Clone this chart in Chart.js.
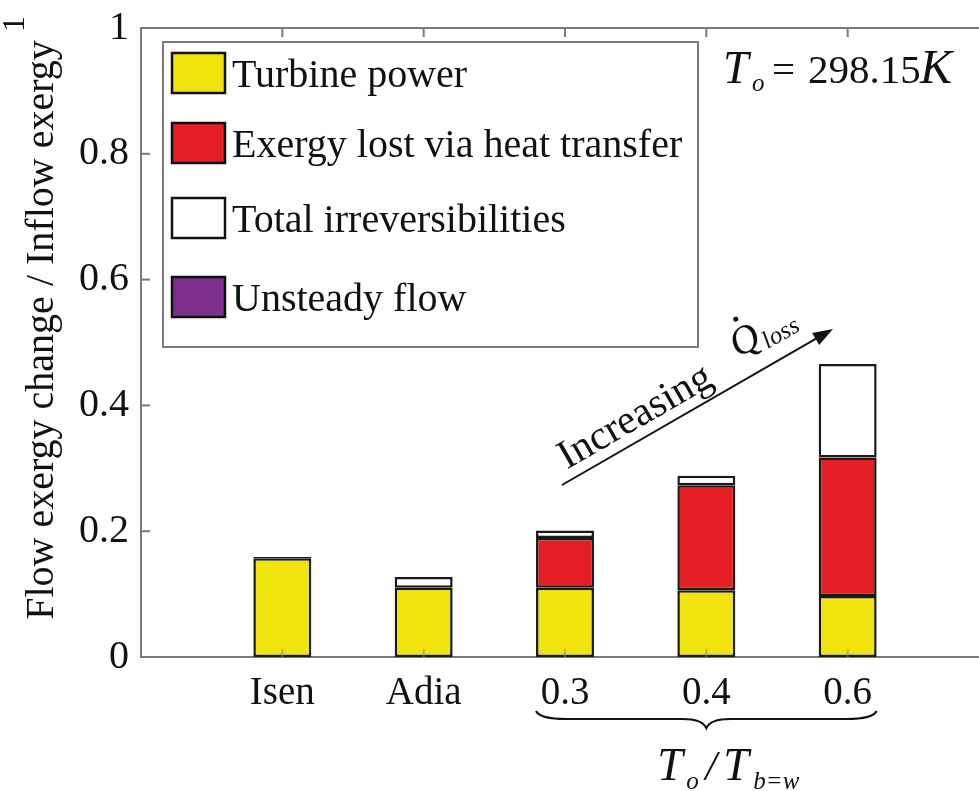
<!DOCTYPE html>
<html>
<head>
<meta charset="utf-8">
<script src="https://cdn.jsdelivr.net/npm/chart.js@4.4.1/dist/chart.umd.min.js"></script>
<style>
html, body { margin: 0; padding: 0; background: #fff; overflow: hidden; }
#wrap { width: 979px; height: 791px; overflow: hidden; }
canvas { display: block; }
</style>
</head>
<body>
<div id="wrap"><canvas id="c" width="1000" height="791"></canvas></div>
<script>
// Exergy breakdown per case (fraction of inflow exergy)
const categories = ['Isen', 'Adia', '0.3', '0.4', '0.6'];
const turbinePower = [0.157, 0.110, 0.110, 0.106, 0.097];
const heatTransferLoss = [0, 0, 0.079, 0.167, 0.220];
const irreversibilities = [0.002, 0.017, 0.012, 0.015, 0.149];
const unsteadyFlow = [0, 0, 0, 0, 0];
const yTicks = [0, 0.2, 0.4, 0.6, 0.8, 1];
const seriesNames = ['Turbine power', 'Exergy lost via heat transfer', 'Total irreversibilities', 'Unsteady flow'];
const seriesColors = ['#F0E30E', '#E31E24', '#FFFFFF', '#7E2F8E'];

const FONT = '"Liberation Serif", "Times New Roman", serif';
const AXIS = '#7a7a7a';
const INK = '#111111';

// one empty slot on each side so the x range runs from 0 to 6
const labels = ['', ...categories, ''];
const pad = arr => [null, ...arr, null];
const seriesValues = [turbinePower, heatTransferLoss, irreversibilities, unsteadyFlow];

const datasets = seriesValues.map((vals, i) => ({
  label: seriesNames[i],
  data: pad(vals),
  backgroundColor: seriesColors[i],
  borderColor: '#1a1a1a',
  borderWidth: 2.5,
  borderSkipped: false,
  barPercentage: 0.41,
  categoryPercentage: 1
}));

function line(ctx, x1, y1, x2, y2) {
  ctx.beginPath(); ctx.moveTo(x1, y1); ctx.lineTo(x2, y2); ctx.stroke();
}

const framePlugin = {
  id: 'frame',
  afterDraw(chart) {
    const { ctx, chartArea: a, scales: { x, y } } = chart;
    ctx.save();

    // box: top and right edges
    ctx.strokeStyle = AXIS;
    ctx.lineWidth = 2;
    line(ctx, a.left, a.top, a.right, a.top);
    line(ctx, a.right, a.top, a.right, a.bottom);

    // inward tick marks
    yTicks.forEach(v => {
      const py = y.getPixelForValue(v);
      line(ctx, a.left, py, a.left + 9, py);
      line(ctx, a.right - 10, py, a.right, py);
    });
    categories.forEach((c, i) => {
      const px = x.getPixelForValue(i + 1);
      ctx.strokeStyle = AXIS;
      line(ctx, px, a.top, px, a.top + 9);
      ctx.strokeStyle = 'rgba(140,140,140,0.55)';
      line(ctx, px, a.bottom, px, a.bottom - 8);
    });

    // y axis title
    ctx.save();
    ctx.translate(42, 330);
    ctx.rotate(-Math.PI / 2);
    ctx.fillStyle = INK;
    ctx.font = '40px ' + FONT;
    ctx.textAlign = 'center';
    ctx.textBaseline = 'middle';
    ctx.fillText('Flow exergy change / Inflow exergy', 0, 0);
    ctx.restore();

    // legend
    const lx = 163, ly = 42, lw = 535, lh = 305;
    const rows = [73, 143, 218, 297];
    ctx.fillStyle = '#fff';
    ctx.fillRect(lx, ly, lw, lh);
    ctx.strokeStyle = AXIS;
    ctx.lineWidth = 2;
    ctx.strokeRect(lx, ly, lw, lh);
    ctx.font = '40px ' + FONT;
    ctx.textBaseline = 'alphabetic';
    ctx.textAlign = 'left';
    chart.data.datasets.forEach((ds, i) => {
      const cy = rows[i];
      ctx.fillStyle = ds.backgroundColor;
      ctx.fillRect(172, cy - 20, 53, 40);
      ctx.strokeStyle = INK;
      ctx.lineWidth = 2.5;
      ctx.strokeRect(172, cy - 20, 53, 40);
      ctx.fillStyle = INK;
      ctx.fillText(ds.label, 232, cy + 14);
    });

    // reference temperature
    ctx.fillStyle = INK;
    ctx.font = 'italic 46px ' + FONT;
    ctx.fillText('T', 723, 83);
    ctx.font = 'italic 25px ' + FONT;
    ctx.fillText('o', 752, 91);
    ctx.font = '41px ' + FONT;
    ctx.fillText('=', 772, 83);
    ctx.fillText('298.15', 808, 83);
    ctx.font = 'italic 48px ' + FONT;
    ctx.fillText('K', 920, 83);

    // arrow for increasing heat loss
    const x0 = 562, y0 = 485, x1 = 833, y1 = 329;
    const ang = Math.atan2(y1 - y0, x1 - x0);
    ctx.strokeStyle = INK;
    ctx.lineWidth = 2;
    line(ctx, x0, y0, x1 - 14 * Math.cos(ang), y1 - 14 * Math.sin(ang));
    ctx.beginPath();
    ctx.moveTo(x1, y1);
    ctx.lineTo(x1 - 20 * Math.cos(ang) + 7 * Math.sin(ang), y1 - 20 * Math.sin(ang) - 7 * Math.cos(ang));
    ctx.lineTo(x1 - 20 * Math.cos(ang) - 7 * Math.sin(ang), y1 - 20 * Math.sin(ang) + 7 * Math.cos(ang));
    ctx.closePath();
    ctx.fillStyle = INK;
    ctx.fill();

    ctx.save();
    ctx.translate(x0, y0);
    ctx.rotate(ang);
    ctx.font = '41px ' + FONT;
    ctx.fillText('Increasing', 12, -11);
    // Q-dot with "loss" subscript
    ctx.font = 'italic 40px ' + FONT;
    const qx = 216, qy = -22;
    ctx.fillText('Q', qx, qy);
    const qw = ctx.measureText('Q').width;
    ctx.beginPath();
    ctx.arc(qx + qw * 0.6, qy - 35, 2.5, 0, Math.PI * 2);
    ctx.fill();
    ctx.font = 'italic 25px ' + FONT;
    ctx.fillText('loss', qx + qw + 1, qy + 7);
    ctx.restore();

    // brace under the heat-transfer cases
    const half = 29;
    const bl = x.getPixelForValue(3) - half;
    const br = x.getPixelForValue(5) + half;
    const bc = (bl + br) / 2;
    const by = 719;
    ctx.strokeStyle = INK;
    ctx.lineWidth = 2.2;
    ctx.beginPath();
    ctx.moveTo(bl, by - 8);
    ctx.quadraticCurveTo(bl + 4, by, bl + 30, by);
    ctx.lineTo(bc - 24, by);
    ctx.quadraticCurveTo(bc - 4, by, bc, by + 9);
    ctx.quadraticCurveTo(bc + 4, by, bc + 24, by);
    ctx.lineTo(br - 30, by);
    ctx.quadraticCurveTo(br - 4, by, br, by - 8);
    ctx.stroke();

    // temperature ratio label
    const tx = bc - 49;
    ctx.fillStyle = INK;
    ctx.font = 'italic 46px ' + FONT;
    ctx.fillText('T', tx, 780);
    ctx.font = 'italic 25px ' + FONT;
    ctx.fillText('o', tx + 29, 789);
    ctx.font = 'italic 42px ' + FONT;
    ctx.fillText('/', tx + 48, 780);
    ctx.font = 'italic 46px ' + FONT;
    ctx.fillText('T', tx + 66, 780);
    ctx.font = 'italic 25px ' + FONT;
    ctx.fillText('b=w', tx + 96, 789);

    // small rotated mark in the corner
    ctx.save();
    ctx.translate(16, 24);
    ctx.rotate(-Math.PI / 2);
    ctx.font = '32px ' + FONT;
    ctx.textAlign = 'center';
    ctx.textBaseline = 'middle';
    ctx.fillText('1', 0, 0);
    ctx.restore();

    ctx.restore();
  }
};

Chart.defaults.font.family = FONT;

new Chart(document.getElementById('c'), {
  type: 'bar',
  data: { labels, datasets },
  options: {
    responsive: false,
    animation: false,
    devicePixelRatio: 1,
    layout: { padding: { left: 0, top: 20, right: 11, bottom: 0 } },
    plugins: { legend: { display: false }, tooltip: { enabled: false } },
    scales: {
      x: {
        stacked: true,
        offset: false,
        grid: { display: false },
        border: { display: true, color: AXIS, width: 2 },
        ticks: { autoSkip: false, maxRotation: 0, padding: 5, color: INK, font: { size: 39 } },
        afterFit(s) { s.height = 134; }
      },
      y: {
        stacked: true,
        min: 0,
        max: 1,
        grid: { display: false },
        border: { display: true, color: AXIS, width: 2 },
        ticks: {
          padding: 4,
          color: INK,
          font: { size: 40 },
          callback: v => String(+v.toFixed(1))
        },
        afterBuildTicks(s) { s.ticks = yTicks.map(v => ({ value: v })); },
        afterFit(s) { s.width = 141; }
      }
    }
  },
  plugins: [framePlugin]
});
</script>
</body>
</html>
